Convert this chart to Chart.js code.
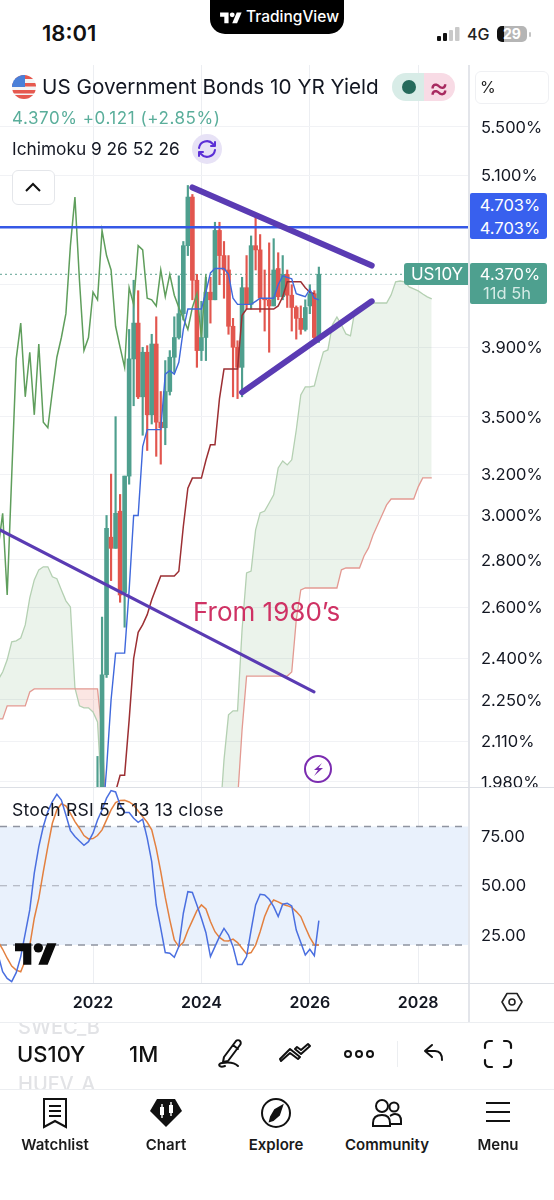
<!DOCTYPE html>
<html><head><meta charset="utf-8">
<script src="https://cdn.jsdelivr.net/npm/chart.js@4"></script>
<style>
html,body{margin:0;padding:0;background:#fff}
#page{position:relative;width:554px;height:1200px;overflow:hidden;background:#fff;font-family:Inter,"Noto Sans",sans-serif;color:#131722}
canvas{position:absolute;left:0;display:block}
.t{position:absolute;white-space:nowrap;transform:translateY(-50%);line-height:1}
.c{position:absolute;white-space:nowrap;transform:translate(-50%,-50%);line-height:1}
.b{position:absolute}
svg{position:absolute;overflow:visible}
</style></head><body>
<div id="page">
<canvas id="price" width="554" height="722" style="top:65px;width:554px;height:722px"></canvas>
<canvas id="stoch" width="554" height="235" style="top:787px;width:554px;height:235px;background:#fff"></canvas>

<div class="b" style="left:468px;top:65px;width:2px;height:957px;background:#e3e5ea"></div>
<div class="b" style="left:0;top:787px;width:554px;height:1px;background:#dcdfe5"></div>
<div class="b" style="left:0;top:983px;width:554px;height:1px;background:#dcdfe5"></div>
<div class="b" style="left:0;top:1022px;width:554px;height:1px;background:#eceef1"></div>
<div class="b" style="left:0;top:1089px;width:554px;height:1px;background:#eceef1"></div>

<!-- status bar -->
<div class="t" style="left:42px;top:33px;font-size:22px;font-weight:600;color:#111">18:01</div>
<div class="b" style="left:210px;top:0;width:134px;height:34px;background:#000;border-radius:0 0 15px 15px"></div>
<svg style="left:220px;top:10px" width="22" height="17" viewBox="0 0 36 28"><path fill="#fff" d="M14 22H7V11H0V4h14v18zM28 22h-8l7.500-18h8L28 22z"/><circle fill="#fff" cx="20" cy="8" r="4"/></svg>
<div class="t" style="left:246px;top:17px;font-size:15.5px;font-weight:500;color:#fff">TradingView</div>
<svg style="left:437px;top:27px" width="24" height="15"><rect x="0" y="9" width="4" height="5" rx="1" fill="#111"/><rect x="6" y="6" width="4" height="8" rx="1" fill="#111"/><rect x="12" y="3" width="4" height="11" rx="1" fill="#c9c9c9"/><rect x="18" y="0" width="4.500" height="14" rx="1" fill="#c9c9c9"/></svg>
<div class="t" style="left:467px;top:34px;font-size:16px;font-weight:500;color:#222">4G</div>
<div class="b" style="left:497px;top:26px;width:30px;height:16px;border-radius:5px;background:linear-gradient(90deg,#111 0,#111 25%,#b5b5b5 25%,#b5b5b5 100%)"></div>
<div class="c" style="left:512px;top:34px;font-size:14px;font-weight:700;color:#fff">29</div>
<div class="b" style="left:529px;top:32px;width:2px;height:5px;border-radius:1px;background:#c4c4c4"></div>

<!-- header -->
<svg style="left:12px;top:75px" width="24" height="24" viewBox="0 0 24 24"><defs><clipPath id="fc"><circle cx="12" cy="12" r="12"/></clipPath></defs><g clip-path="url(#fc)"><rect width="24" height="24" fill="#f4f5f6"/><rect y="0" width="24" height="4" fill="#e6594f"/><rect y="8" width="24" height="3.500" fill="#e6594f"/><rect y="15" width="24" height="3.500" fill="#e6594f"/><rect y="20" width="24" height="4" fill="#e6594f"/><rect width="13" height="12" fill="#4a7fd8"/></g></svg>
<div class="t" style="left:42px;top:87px;font-size:20.7px;color:#131722">US Government Bonds 10 YR Yield</div>
<div class="b" style="left:392px;top:73px;width:32px;height:28px;background:#d8ece7;border-radius:14px 0 0 14px"></div>
<div class="b" style="left:424px;top:73px;width:31px;height:28px;background:#f8dbe5;border-radius:0 14px 14px 0"></div>
<div class="b" style="left:402px;top:80px;width:14px;height:14px;border-radius:50%;background:#256a5b"></div>
<div class="c" style="left:439px;top:87px;font-size:30px;font-weight:400;color:#a82a60">≈</div>
<div class="t" style="left:12px;top:118px;font-size:17px;color:#5aae9b;letter-spacing:.55px">4.370% +0.121 (+2.85%)</div>
<div class="t" style="left:12px;top:149px;font-size:17.3px;color:#131722">Ichimoku 9 26 52 26</div>
<div class="b" style="left:192px;top:134px;width:30px;height:30px;border-radius:50%;background:#e7e2f6"></div>
<svg style="left:197px;top:139px" width="20" height="20" viewBox="0 0 20 20" fill="none" stroke="#5b2fd6" stroke-width="2" stroke-linecap="round" stroke-linejoin="round"><path d="M2 9a8 8 0 0 1 14-4l2 2M18 3v4h-4M18 11a8 8 0 0 1-14 4l-2-2M2 17v-4h4"/></svg>
<div class="b" style="left:475px;top:71px;width:72px;height:31px;border:1px solid #eff0f3;border-radius:6px"></div>
<div class="t" style="left:480px;top:87px;font-size:16px;color:#222">%</div>
<div class="b" style="left:12px;top:170px;width:41px;height:33px;border:1px solid #e4e6ea;border-radius:6px;background:#fff"></div>
<svg style="left:25px;top:182px" width="16" height="10" fill="none" stroke="#111" stroke-width="2"><path d="M1 9l7-7 7 7"/></svg>

<!-- price tags -->
<div class="b" style="left:470px;top:193px;width:77px;height:46px;background:#3860ee;border-radius:2px 3px 3px 2px"></div>
<div class="c" style="left:510px;top:205px;font-size:16.500px;color:#fff">4.703%</div>
<div class="c" style="left:510px;top:228px;font-size:16.500px;color:#fff">4.703%</div>
<div class="b" style="left:404px;top:263px;width:64px;height:22px;background:#4ea08f;border-radius:3px 0 0 3px"></div>
<div class="c" style="left:437px;top:274px;font-size:17px;color:#fff">US10Y</div>
<div class="b" style="left:470px;top:263px;width:77px;height:41px;background:#4ea08f;border-radius:2px 3px 3px 2px"></div>
<div class="c" style="left:510px;top:274px;font-size:16.500px;color:#fff">4.370%</div>
<div class="c" style="left:507px;top:293px;font-size:16.500px;color:#d5ebe6">11d 5h</div>

<!-- annotations -->
<div class="t" style="left:193px;top:612px;font-size:26px;color:#cf3264">From 1980’s</div>
<svg style="left:304px;top:755px" width="28" height="28" viewBox="0 0 28 28"><circle cx="14" cy="14" r="13" fill="#fff" stroke="#7b2cb0" stroke-width="2"/><path d="M18 8l-8 7h4l-4 6 9-8h-4.500z" fill="#7b2cb0"/></svg>
<div class="t" style="left:12px;top:810px;font-size:17.6px;letter-spacing:.2px;color:#131722">Stoch RSI 5 5 13 13 close</div>
<svg style="left:15px;top:943px" width="42" height="22" viewBox="0 0 36 18.500"><path fill="#0a0a0a" d="M14 18.500H7V7H0V0h14zM28 18.500h-8L27.500 0h8z"/><circle fill="#0a0a0a" cx="20" cy="4" r="4"/></svg>
<svg style="left:500px;top:990px" width="24" height="24" viewBox="0 0 24 24" fill="none" stroke="#222" stroke-width="1.600"><path d="M7 3.500h10l5 8.500-5 8.500H7L2 12z" stroke-linejoin="round"/><circle cx="12" cy="12" r="3"/></svg>

<!-- toolbar -->
<div class="b" style="left:0;top:1023px;width:554px;height:66px;overflow:hidden">
  <div class="t" style="left:18px;top:4px;font-size:20px;font-weight:500;color:#e2e3e6">SWEC_B</div>
  <div class="t" style="left:18px;top:61px;font-size:20px;font-weight:500;color:#e2e3e6">HUFV_A</div>
</div>
<div class="t" style="left:17px;top:1054px;font-size:22px;font-weight:500;color:#111">US10Y</div>
<div class="t" style="left:129px;top:1054px;font-size:22px;font-weight:500;color:#111">1M</div>
<svg style="left:216px;top:1038px" width="30" height="32" viewBox="0 0 30 32" fill="none" stroke="#111" stroke-width="2" stroke-linecap="round" stroke-linejoin="round"><path d="M8 19L20 3c1-1 3-1 4 0s1 3 0 4L12 23l-5 1zM17 7l5 4"/><path d="M9 28c-6 2-8-2-3-3 6-1 12-1 16 3"/></svg>
<svg style="left:280px;top:1042px" width="32" height="24" viewBox="0 0 32 24" fill="none" stroke="#111" stroke-width="2" stroke-linejoin="round"><path d="M1 19l9-8 8 6 2-2-10-8L0 17zM15 7l6 5 9-8-2-2-7 6-4-3z"/></svg>
<svg style="left:344px;top:1048px" width="30" height="12" fill="none" stroke="#111" stroke-width="2"><circle cx="4" cy="6" r="3"/><circle cx="15" cy="6" r="3"/><circle cx="26" cy="6" r="3"/></svg>
<div class="b" style="left:397px;top:1041px;width:1px;height:26px;background:#eceef1"></div>
<svg style="left:423px;top:1043px" width="22" height="20" fill="none" stroke="#111" stroke-width="2" stroke-linecap="round" stroke-linejoin="round"><path d="M9 2L2 8l7 6M2 8h10c5 0 7 3 7 9"/></svg>
<svg style="left:484px;top:1040px" width="28" height="28" fill="none" stroke="#111" stroke-width="2.200" stroke-linecap="round"><path d="M1 8V5c0-2 2-4 4-4h3M20 1h3c2 0 4 2 4 4v3M27 20v3c0 2-2 4-4 4h-3M8 27H5c-2 0-4-2-4-4v-3"/></svg>

<!-- tabs -->
<svg style="left:43px;top:1098px" width="24" height="30" fill="none" stroke="#111" stroke-width="2"><path d="M1 1h22v28l-11-6-11 6z"/><path d="M6 8h12M6 13h12M6 18h12"/></svg>
<svg style="left:150px;top:1098px" width="32" height="30" viewBox="0 0 32 30"><path fill="#111" d="M7 1h18l7 12-16 16L0 13z"/><rect x="10" y="9" width="4" height="8" fill="#fff"/><rect x="19" y="7" width="4" height="8" fill="#fff"/><path stroke="#fff" stroke-width="1.400" d="M12 6v14M21 4v14"/></svg>
<svg style="left:261px;top:1098px" width="30" height="30" viewBox="0 0 30 30" fill="none" stroke="#111" stroke-width="2"><circle cx="15" cy="15" r="14"/><path fill="#111" d="M21 8l-3 9-6 5-3 1 1-4 4-7z"/></svg>
<svg style="left:372px;top:1098px" width="30" height="30" viewBox="0 0 30 30" fill="none" stroke="#111" stroke-width="2"><circle cx="10" cy="8" r="6"/><circle cx="22" cy="9" r="4.500"/><path d="M1 28v-3c0-6 4-8 9-8s8 2 8 8v3zM18 18c2-1 3-2 5-2 4 0 6 3 6 7v3H18"/></svg>
<svg style="left:486px;top:1101px" width="24" height="22" fill="none" stroke="#111" stroke-width="2.200"><path d="M0 2h24M0 11h24M0 20h24"/></svg>
<div class="c" style="left:55px;top:1144px;font-size:15px;font-weight:600;color:#1a1a1a">Watchlist</div>
<div class="c" style="left:166px;top:1144px;font-size:15px;font-weight:600;color:#1a1a1a">Chart</div>
<div class="c" style="left:276px;top:1144px;font-size:15px;font-weight:600;color:#1a1a1a">Explore</div>
<div class="c" style="left:387px;top:1144px;font-size:15px;font-weight:600;color:#1a1a1a">Community</div>
<div class="c" style="left:498px;top:1144px;font-size:15px;font-weight:600;color:#1a1a1a">Menu</div>
</div>

<script>
// x axis unit: months since Jan 2022
const xMin = -20.59, xMax = 83.02;
const xTickValues = [0, 24, 48, 72];
const xTickLabels = ['2022', '2024', '2026', '2028'];

const yMin = 1.964, yMax = 6.058;
const yTickValues = [5.5, 5.1, 4.7, 4.3, 3.9, 3.5, 3.2, 3.0, 2.8, 2.6, 2.4, 2.25, 2.11, 1.98];
const yTickLabels = ['5.500%', '5.100%', '', '', '3.900%', '3.500%', '3.200%', '3.000%', '2.800%', '2.600%', '2.400%', '2.250%', '2.110%', '1.980%'];

const stochTickValues = [70.4, 49.7, 28.8];
const stochTickLabels = ['75.00', '50.00', '25.00'];

// monthly candles Jan 2022 .. Mar 2026
const opens = [1.51,1.78,1.83,2.34,2.90,2.85,3.02,2.66,3.19,3.83,4.05,3.61,3.87,3.51,3.92,3.47,3.44,3.64,3.84,3.96,4.11,4.57,4.93,4.33,3.88,3.96,4.25,4.20,4.68,4.50,4.40,4.03,3.90,3.78,4.28,4.17,4.57,4.54,4.21,4.20,4.16,4.41,4.22,4.37,4.23,4.15,4.08,4.01,4.16,4.24,3.96];
const highs = [1.90,2.06,2.56,3.00,3.20,3.50,3.10,3.19,4.01,4.33,4.26,3.90,3.91,3.98,4.09,3.64,3.82,3.88,4.09,4.36,4.60,5.02,4.95,4.37,4.19,4.35,4.35,4.74,4.74,4.60,4.50,4.08,3.94,4.35,4.50,4.64,4.80,4.65,4.40,4.59,4.62,4.52,4.50,4.40,4.30,4.16,4.16,4.20,4.30,4.26,4.42];
const lows = [1.48,1.72,1.66,2.33,2.71,2.85,2.62,2.52,3.15,3.56,3.60,3.40,3.32,3.46,3.29,3.25,3.35,3.62,3.75,3.95,4.07,4.50,4.20,3.78,3.82,3.82,4.05,4.20,4.30,4.21,3.98,3.61,3.60,3.61,4.14,4.14,4.40,4.12,4.00,3.87,4.16,4.20,4.20,4.15,4.00,3.95,3.98,4.00,4.11,3.95,3.93];
const closes = [1.78,1.83,2.34,2.94,2.85,3.01,2.65,3.19,3.83,4.05,3.61,3.87,3.51,3.92,3.47,3.44,3.64,3.84,3.96,4.11,4.57,4.93,4.33,3.88,3.96,4.25,4.20,4.68,4.50,4.40,4.03,3.90,3.78,4.28,4.17,4.57,4.54,4.21,4.20,4.16,4.40,4.22,4.37,4.23,4.15,4.08,4.01,4.15,4.24,3.96,4.37];

// Ichimoku
const conversionStart = 2;
const conversionLine = [1.85,2.02,2.25,2.42,2.42,2.42,2.67,3.00,3.00,3.34,3.43,3.43,3.43,3.43,3.74,3.76,3.74,3.81,4.01,4.14,4.14,4.14,4.14,4.25,4.38,4.41,4.41,4.41,4.37,4.21,4.17,4.17,4.17,4.17,4.19,4.21,4.21,4.21,4.21,4.30,4.36,4.35,4.34,4.24,4.23,4.22,4.27,4.21,4.20];
const baseStart = 5;
const baseLine = [1.95,2.00,2.00,2.18,2.40,2.50,2.53,2.57,2.63,2.68,2.73,2.73,2.73,2.73,2.75,2.95,3.13,3.18,3.18,3.18,3.27,3.35,3.35,3.60,3.77,3.77,3.77,3.77,4.10,4.14,4.14,4.14,4.14,4.14,4.14,4.14,4.16,4.22,4.32,4.32,4.32,4.32,4.28,4.25,4.24];
const laggingStart = -21;
const laggingSpan = [2.85,3.01,2.65,3.19,3.83,4.05,3.61,3.87,3.51,3.92,3.47,3.44,3.64,3.84,3.96,4.11,4.57,4.93,4.33,3.88,3.96,4.25,4.20,4.68,4.50,4.40,4.03,3.90,3.78,4.28,4.17,4.57,4.54,4.21,4.20,4.16,4.40,4.22,4.37,4.23,4.15,4.08,4.01,4.15,4.24,3.96,4.37];
const leadStart = -21;
const leadingA = [2.321,2.350,2.395,2.463,2.467,2.478,2.529,2.638,2.713,2.756,2.769,2.769,2.726,2.718,2.671,2.626,2.601,2.292,2.229,2.222,2.222,2.208,2.174,1.925,
 1.70,1.55,1.40,1.30,1.25,1.20,1.15,1.10,1.05,1.00,1.00,1.02,1.05,1.10,1.15,1.20,1.25,1.35,1.45,1.50,1.55,1.60,1.65,1.70,1.78,1.85,
 2.049,2.198,2.212,2.212,2.510,2.743,2.751,2.933,3.012,3.021,3.059,3.098,3.231,3.266,3.246,3.272,3.428,3.621,3.666,3.666,3.672,3.777,3.872,3.884,4.039,4.089,4.039,3.982,3.970,4.134,4.154,4.166,4.179,4.179,4.179,4.179,4.179,4.232,4.319,4.325,4.319,4.285,4.272,4.259,4.238,4.219,4.206];
const leadingB = [2.184,2.184,2.229,2.229,2.229,2.229,2.229,2.278,2.289,2.289,2.289,2.289,2.289,2.289,2.289,2.289,2.289,2.289,2.289,2.289,2.289,2.289,2.289,2.137,
 1.85,1.70,1.55,1.45,1.40,1.35,1.30,1.25,1.20,1.15,1.10,1.05,1.00,1.00,1.00,1.05,1.05,1.10,1.10,1.20,1.20,1.30,1.30,1.40,1.40,1.50,1.50,1.60,1.75,
 1.925,2.147,2.335,2.335,2.335,2.335,2.335,2.335,2.335,2.335,2.335,2.335,2.350,2.549,2.671,2.679,2.679,2.679,2.679,2.679,2.679,2.679,2.679,2.756,2.764,2.764,2.764,2.764,2.816,2.852,2.910,2.956,3.002,3.050,3.078,3.078,3.078,3.078,3.078,3.078,3.137,3.181,3.181,3.181];

// levels and drawn trend lines (month, yield)
const alertLevel = 4.703;
const lastPrice = 4.370;
const lastPriceEnd = 69.9;
const trendUpperX = [22.0, 61.7], trendUpperY = [5.005, 4.43];
const trendLowerX = [33.0, 61.7], trendLowerY = [3.635, 4.19];
const trend1980X = [-20.59, 48.93], trend1980Y = [2.933, 2.278];

// Stoch RSI
const stochStart = -21;
const stochK = [20.8,13.7,10.9,9.5,13.3,20.1,29.9,39.8,55.3,66.5,75,81.3,85.5,88.6,86.2,79.9,73.3,70.8,68.9,67.1,68.6,72.2,77.8,82,87,90.2,89.6,84.1,80.9,80.9,78.5,76.8,78.1,70.1,60.2,41.9,32,21.8,21.5,19.8,24.3,38.4,47.5,47.2,41.9,36.3,30.2,20.1,24.3,28.5,32,29.2,24.3,16.8,16.8,20.1,31.3,41.9,46.4,46.1,44.3,41.2,37,42.2,42.6,41.5,31.3,26,20.8,23.2,20.5,35.3];
const stochD = [26.4,23.2,19.4,16.1,14.4,13.7,18.4,24.7,36.3,44.7,56,66.5,76.4,82,84.6,83.7,80.6,77.1,74.3,71.2,69.8,69.9,71.2,73.6,77.8,82,85.1,86,86.1,85.4,84.1,81.6,79.2,76.8,73.6,65.8,56,45.1,35.6,27.1,24.3,26.1,31.1,35.3,39.5,41.9,40.2,34.9,30.6,28.2,26.8,26.7,27.5,26,23.6,21.2,21.8,24.9,30.6,37,41.5,44,43.2,42.2,41.6,40.9,39.1,37,32.5,28.2,25,25];
const stochLevels = [75, 50, 25];
const stochMin = 8.95, stochMax = 91.7;

const UP = '#4f9f8e', DOWN = '#e2564e';
const seq = (vals, start) => vals.map((y, i) => ({x: start + i, y}));
const pair = (xs, ys) => xs.map((x, i) => ({x, y: ys[i]}));
const candleColors = closes.map((c, i) => c >= opens[i] ? UP : DOWN);
const wicks = highs.map((h, i) => ({x: i, y: [lows[i], h]}));
const bodies = opens.map((o, i) => ({x: i, y: [o, closes[i]]}));
const line = (data, color, width, order, extra) => Object.assign({type: 'line', data, borderColor: color, borderWidth: width, pointRadius: 0, tension: 0, order, fill: false}, extra || {});
const sized = s => { s.paddingTop = 0; s.paddingBottom = 0; s.paddingLeft = 0; s.paddingRight = 0; };
const fontBase = {family: 'Inter, "Noto Sans", sans-serif'};
const xAxis = (showLabels) => ({
  type: 'linear', min: xMin, max: xMax, offset: false,
  afterBuildTicks: a => { a.ticks = xTickValues.map(v => ({value: v})); },
  afterFit: s => { sized(s); s.height = showLabels ? 39 : 0; },
  grid: {color: '#eceef2', offset: false, drawTicks: false, lineWidth: 1},
  border: {display: false},
  ticks: {display: showLabels, autoSkip: false, maxRotation: 0, padding: 11, color: '#131722',
    font: Object.assign({size: 16, weight: '600'}, fontBase),
    callback: (v, i) => xTickLabels[i]}
});

new Chart(document.getElementById('price'), {
  type: 'bar',
  data: {datasets: [
    line(seq(leadingA, leadStart), '#b4d0b2', 1.3, 20, {fill: {target: '+1', above: 'rgba(76,150,80,0.115)', below: 'rgba(230,90,70,0.15)'}}),
    line(seq(leadingB, leadStart), '#e39a92', 1.3, 19),
    line(pair([xMin, lastPriceEnd], [lastPrice, lastPrice]), '#7fb5a8', 1.2, 18, {borderDash: [2, 3]}),
    {type: 'bar', data: wicks, backgroundColor: candleColors, barThickness: 1.5, maxBarThickness: 1.5, grouped: false, order: 9, borderWidth: 0},
    {type: 'bar', data: bodies, backgroundColor: candleColors, barThickness: 4, maxBarThickness: 4, grouped: false, order: 8, borderWidth: 0},
    line(seq(laggingSpan, laggingStart), '#5f9e5c', 1.5, 5),
    line(seq(baseLine, baseStart), '#9c2f33', 1.5, 4),
    line(seq(conversionLine, conversionStart), '#3f68dc', 1.4, 3),
    line(pair([xMin, xMax], [alertLevel, alertLevel]), '#3558e6', 2.6, 2),
    line(pair(trendUpperX, trendUpperY), '#5a3bb3', 6, 1, {borderCapStyle: 'round'}),
    line(pair(trendLowerX, trendLowerY), '#5a3bb3', 6, 1, {borderCapStyle: 'round'}),
    line(pair(trend1980X, trend1980Y), '#5a3bb3', 3, 1, {borderCapStyle: 'round'})
  ]},
  options: {
    responsive: false, animation: false, devicePixelRatio: 1,
    plugins: {legend: {display: false}, tooltip: {enabled: false}, title: {display: false}},
    layout: {padding: 0},
    scales: {
      x: xAxis(false),
      y: {
        type: 'logarithmic', position: 'right', min: yMin, max: yMax, bounds: 'data',
        afterBuildTicks: a => { a.ticks = yTickValues.map(v => ({value: v})); },
        afterFit: s => { sized(s); s.width = 86; },
        grid: {color: '#f1f2f5', drawTicks: false},
        border: {display: false},
        ticks: {autoSkip: false, padding: 13, labelOffset: 1, color: '#131722', font: Object.assign({size: 16.5}, fontBase),
          callback: (v, i) => yTickLabels[i]}
      }
    }
  }
});

new Chart(document.getElementById('stoch'), {
  type: 'line',
  data: {datasets: [
    line(pair([xMin, xMax], [stochLevels[0], stochLevels[0]]), '#8f94a0', 1.4, 10, {borderDash: [7, 6], fill: {target: '+2', above: '#e9f1fc', below: '#e9f1fc'}}),
    line(pair([xMin, xMax], [stochLevels[1], stochLevels[1]]), '#a6abb5', 1.2, 9, {borderDash: [7, 6]}),
    line(pair([xMin, xMax], [stochLevels[2], stochLevels[2]]), '#8f94a0', 1.4, 8, {borderDash: [7, 6]}),
    line(seq(stochD, stochStart), '#e3803f', 1.5, 3),
    line(seq(stochK, stochStart), '#4a6fe0', 1.5, 2)
  ]},
  options: {
    responsive: false, animation: false, devicePixelRatio: 1,
    plugins: {legend: {display: false}, tooltip: {enabled: false}, title: {display: false}},
    layout: {padding: 0},
    scales: {
      x: xAxis(true),
      y: {
        type: 'linear', position: 'right', min: stochMin, max: stochMax, bounds: 'data',
        afterBuildTicks: a => { a.ticks = stochTickValues.map(v => ({value: v})); },
        afterFit: s => { sized(s); s.width = 86; },
        grid: {display: false},
        border: {display: false},
        ticks: {autoSkip: false, padding: 5, color: '#131722', font: Object.assign({size: 16.5}, fontBase),
          callback: (v, i) => stochTickLabels[i]}
      }
    }
  }
});
</script>
</body></html>
